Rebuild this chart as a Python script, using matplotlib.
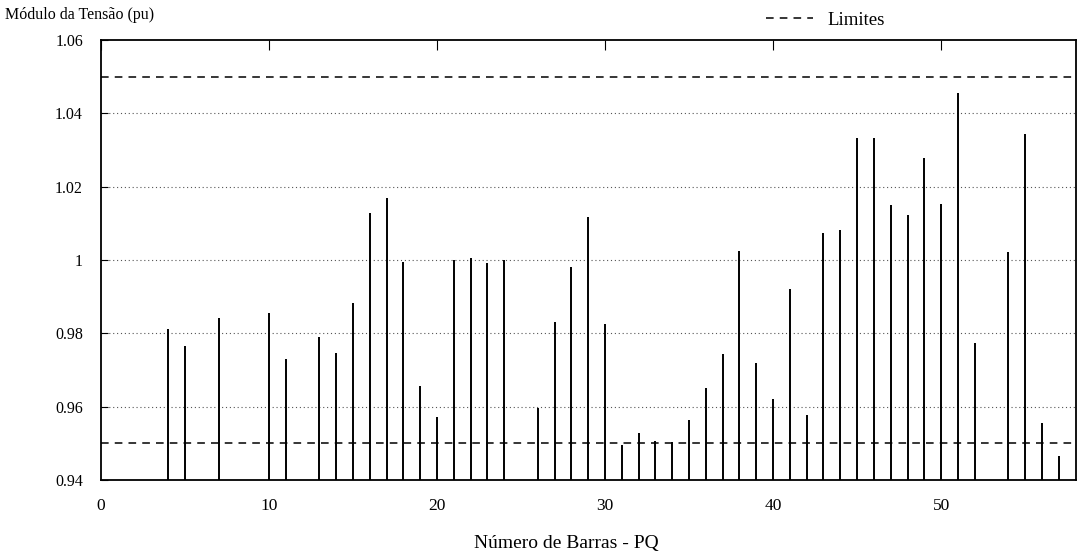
import matplotlib.pyplot as plt
import numpy as np

plt.rcParams['font.family'] = ['Liberation Serif', 'DejaVu Serif']

# Data: bar number (PQ) and voltage magnitude (pu)
barras = [4, 5, 7, 10, 11, 13, 14, 15, 16, 17, 18, 19, 20, 21, 22, 23, 24,
          26, 27, 28, 29, 30, 31, 32, 33, 34, 35, 36, 37, 38, 39, 40, 41, 42,
          43, 44, 45, 46, 47, 48, 49, 50, 51, 52, 54, 55, 56, 57]
tensao = [0.9812, 0.9767, 0.9843, 0.9857, 0.9729, 0.9790, 0.9748, 0.9883,
          1.0129, 1.0170, 0.9996, 0.9658, 0.9573, 1.0000, 1.0006, 0.9992,
          1.0000, 0.9597, 0.9830, 0.9980, 1.0118, 0.9827, 0.9495, 0.9528,
          0.9507, 0.9504, 0.9564, 0.9650, 0.9745, 1.0024, 0.9720, 0.9620,
          0.9922, 0.9578, 1.0075, 1.0082, 1.0332, 1.0332, 1.0150, 1.0124,
          1.0278, 1.0152, 1.0457, 0.9775, 1.0022, 1.0344, 0.9557, 0.9465]
limites = [0.95, 1.05]
yticks = [0.94, 0.96, 0.98, 1.00, 1.02, 1.04, 1.06]
ytick_labels = ['0.94', '0.96', '0.98', '1', '1.02', '1.04', '1.06']
xticks = [0, 10, 20, 30, 40, 50]

fig = plt.figure(figsize=(10.78, 5.57), dpi=100)
ax = fig.add_axes([0.0937, 0.138, 0.904, 0.79])

# grid (dotted)
for y in yticks[1:-1]:
    ax.axhline(y, color='#555555', lw=0.8, ls=(0, (1, 2.5)), zorder=1)

# limits (dashed)
for i, lim in enumerate(limites):
    ax.axhline(lim, color='black', lw=1.1, ls=(0, (5, 4)), zorder=2,
               label='Limites' if i == 0 else None)

# stems
ax.vlines(barras, 0.94, tensao, colors='black', lw=1.4, zorder=3)

ax.set_xlim(0, 58)
ax.set_ylim(0.94, 1.06)
ax.set_xticks(xticks)
ax.set_yticks(yticks)
ax.set_yticklabels(ytick_labels)
ax.tick_params(axis='x', direction='in', top=True, bottom=False, length=7,
               pad=13, labelsize=12.5)
ax.tick_params(axis='y', direction='in', length=5, pad=13, labelsize=11.5)
for s in ax.spines.values():
    s.set_linewidth(1.3)

fig.text(0.005, 0.973, 'Módulo da Tensão (pu)', fontsize=11.5,
         ha='left', va='center')
fig.text(0.525, 0.025, 'Número de Barras - PQ', fontsize=14,
         ha='center', va='center')
ax.legend(loc='center left', bbox_to_anchor=(0.7106, 0.964),
          bbox_transform=fig.transFigure, frameon=False, fontsize=13.5,
          handlelength=2.5, handletextpad=0.8, borderpad=0, borderaxespad=0)

fig.savefig('out.png', dpi=100)
